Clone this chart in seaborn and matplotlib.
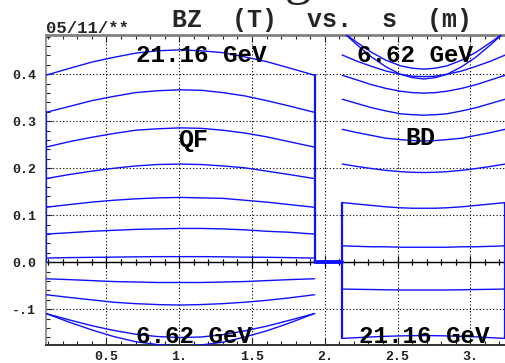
import matplotlib
matplotlib.use("Agg")
import matplotlib.pyplot as plt
import pandas as pd
import seaborn as sns
from matplotlib.ticker import MultipleLocator, FixedLocator, FixedFormatter

sns.set_theme(style="white")
plt.rcParams['font.family'] = ['Liberation Mono', 'DejaVu Sans Mono']
plt.rcParams['font.weight'] = 'bold'

# ---- field samples along s (m) ----
# quadrupole QF region
qf_s = [0.084, 0.25, 0.40, 0.55, 0.70, 0.85, 1.007, 1.15, 1.30, 1.45, 1.60, 1.75, 1.93]
qf_upper = [
    [0.398, 0.413, 0.426, 0.436, 0.445, 0.450, 0.452, 0.450, 0.446, 0.437, 0.427, 0.414, 0.398],
    [0.319, 0.332, 0.344, 0.353, 0.361, 0.365, 0.367, 0.366, 0.361, 0.354, 0.344, 0.333, 0.319],
    [0.245, 0.257, 0.266, 0.274, 0.281, 0.284, 0.286, 0.285, 0.281, 0.275, 0.267, 0.257, 0.245],
    [0.178, 0.187, 0.194, 0.200, 0.205, 0.208, 0.209, 0.208, 0.205, 0.201, 0.194, 0.187, 0.178],
    [0.117, 0.123, 0.128, 0.132, 0.135, 0.137, 0.138, 0.137, 0.136, 0.132, 0.128, 0.123, 0.117],
    [0.060, 0.063, 0.066, 0.068, 0.070, 0.071, 0.072, 0.072, 0.071, 0.069, 0.066, 0.064, 0.060],
    [0.009, 0.010, 0.0105, 0.011, 0.0116, 0.012, 0.012, 0.012, 0.0116, 0.011, 0.0106, 0.010, 0.009],
]
qf_lower = [
    [-0.035, -0.037, -0.039, -0.041, -0.042, -0.043, -0.043, -0.043, -0.042, -0.041, -0.039, -0.037, -0.035],
    [-0.069, -0.075, -0.080, -0.085, -0.088, -0.090, -0.091, -0.090, -0.088, -0.085, -0.081, -0.076, -0.069],
    [-0.109, -0.123, -0.135, -0.145, -0.153, -0.158, -0.160, -0.159, -0.154, -0.146, -0.136, -0.124, -0.109],
    [-0.109, -0.128, -0.144, -0.158, -0.169, -0.175, -0.178, -0.176, -0.170, -0.159, -0.146, -0.130, -0.109],
]

# defocusing BD region
bd_s = [2.12, 2.22, 2.32, 2.42, 2.52, 2.60, 2.68, 2.76, 2.84, 2.94, 3.04, 3.14, 3.24]
bd_upper = [
    [0.490, 0.468, 0.447, 0.430, 0.418, 0.413, 0.411, 0.413, 0.418, 0.430, 0.447, 0.468, 0.490],
    [0.491, 0.463, 0.437, 0.416, 0.400, 0.393, 0.390, 0.393, 0.400, 0.416, 0.437, 0.463, 0.491],
    [0.441, 0.428, 0.417, 0.407, 0.400, 0.396, 0.395, 0.396, 0.400, 0.407, 0.417, 0.428, 0.441],
    [0.398, 0.388, 0.378, 0.370, 0.364, 0.361, 0.360, 0.361, 0.364, 0.370, 0.378, 0.388, 0.398],
    [0.347, 0.338, 0.329, 0.322, 0.316, 0.314, 0.313, 0.314, 0.316, 0.322, 0.329, 0.338, 0.347],
    [0.283, 0.276, 0.270, 0.264, 0.261, 0.259, 0.258, 0.259, 0.261, 0.264, 0.270, 0.276, 0.283],
    [0.209, 0.204, 0.1995, 0.1956, 0.1928, 0.1915, 0.191, 0.1915, 0.1928, 0.1956, 0.1995, 0.204, 0.209],
]
bd_box = [
    [0.127, 0.124, 0.121, 0.118, 0.116, 0.115, 0.115, 0.115, 0.116, 0.118, 0.121, 0.124, 0.127],
    [0.035, 0.034, 0.033, 0.033, 0.032, 0.032, 0.032, 0.032, 0.032, 0.033, 0.033, 0.034, 0.035],
    [-0.057, -0.0575, -0.058, -0.0585, -0.059, -0.059, -0.059, -0.059, -0.059, -0.0585, -0.058, -0.0575, -0.057],
    [-0.162, -0.1604, -0.1588, -0.1575, -0.1566, -0.1562, -0.156, -0.1562, -0.1566, -0.1575, -0.1588, -0.1604, -0.162],
]

x_ticks = [0.5, 1.0, 1.5, 2.0, 2.5, 3.0]
x_labels = ["0.5", "1.", "1.5", "2.", "2.5", "3."]
y_ticks = [-0.1, 0.0, 0.1, 0.2, 0.3, 0.4]
y_labels = ["-.1", "0.0", "0.1", "0.2", "0.3", "0.4"]

BLUE = "#1010ff"


def traces(s, groups, prefix):
    rows = []
    for i, vals in enumerate(groups):
        for sv, bz in zip(s, vals):
            rows.append({"s": sv, "bz": bz, "trace": f"{prefix}{i}"})
    return rows


rows = []
rows += traces(qf_s, qf_upper, "qfu")
rows += traces(qf_s, qf_lower, "qfl")
rows += traces(bd_s, bd_upper, "bdu")
rows += traces(bd_s, bd_box, "bdb")
curves = pd.DataFrame(rows)

# connecting edges of the traces
edges = pd.DataFrame(
    traces([qf_s[0]] * 2, [[0.0, qf_upper[1][0]]], "e_qfl")
    + traces([qf_s[-1]] * 2, [[0.0, qf_upper[0][-1]]], "e_qfr")
    + traces([bd_s[0]] * 2, [[bd_box[0][0], bd_box[-1][0]]], "e_bdl")
    + traces([bd_s[-1]] * 2, [[bd_box[0][-1], bd_box[-1][-1]]], "e_bdr")
)
gap = pd.DataFrame(traces([qf_s[-1], bd_s[0]], [[0.0, 0.0]], "gap"))

fig = plt.figure(figsize=(5.06, 3.63), dpi=100)
ax = fig.add_axes([45.7 / 506, 1 - 345 / 363, (506 - 45.7) / 506, (345 - 35) / 363])

sns.lineplot(data=curves, x="s", y="bz", units="trace", estimator=None, sort=False,
             color=BLUE, lw=1.0, legend=False, ax=ax, zorder=3)
sns.lineplot(data=edges, x="s", y="bz", units="trace", estimator=None, sort=False,
             color=BLUE, lw=1.6, legend=False, ax=ax, zorder=3)
sns.lineplot(data=gap, x="s", y="bz", units="trace", estimator=None, sort=False,
             color=BLUE, lw=2.8, legend=False, ax=ax, zorder=3)

ax.set_xlim(0.0825, 3.245)
ax.set_ylim(-0.176, 0.4836)
ax.set_xlabel("")
ax.set_ylabel("")

ax.xaxis.set_major_locator(FixedLocator(x_ticks))
ax.xaxis.set_major_formatter(FixedFormatter(x_labels))
ax.xaxis.set_minor_locator(MultipleLocator(0.1))
ax.yaxis.set_major_locator(FixedLocator(y_ticks))
ax.yaxis.set_major_formatter(FixedFormatter(y_labels))
ax.yaxis.set_minor_locator(MultipleLocator(0.02))

ax.tick_params(axis="x", which="both", direction="in", top=True, bottom=True,
               colors="#222222", labelsize=9.5, pad=4)
ax.tick_params(axis="x", which="major", length=5, width=0.8)
ax.tick_params(axis="x", which="minor", length=3, width=0.8)
ax.tick_params(axis="y", which="both", direction="in", left=True, right=False,
               colors="#222222", labelsize=9.5, pad=7)
ax.tick_params(axis="y", which="major", length=4, width=0.8)
ax.tick_params(axis="y", which="minor", length=3, width=0.8)
for lab in ax.get_xticklabels() + ax.get_yticklabels():
    lab.set_fontweight("bold")

ax.grid(True, which="major", color="black", linestyle=(0, (1, 2)), lw=0.8)

ax.spines["top"].set_color("#808080")
ax.spines["top"].set_linewidth(2.0)
ax.spines["left"].set_color("#808080")
ax.spines["left"].set_linewidth(1.2)
ax.spines["bottom"].set_color("#333333")
ax.spines["bottom"].set_linewidth(1.4)
ax.spines["right"].set_visible(False)

# zero line with its own tick marks
ylo, yhi = ax.get_ylim()
zero_axis = ax.secondary_xaxis((0 - ylo) / (yhi - ylo))
zero_axis.xaxis.set_major_locator(FixedLocator(x_ticks))
zero_axis.xaxis.set_minor_locator(MultipleLocator(0.1))
zero_axis.tick_params(axis="x", which="both", direction="inout", top=True, bottom=True,
                      labeltop=False, labelbottom=False, colors="black", width=0.8)
zero_axis.tick_params(axis="x", which="major", length=8)
zero_axis.tick_params(axis="x", which="minor", length=5)
for sp in zero_axis.spines.values():
    sp.set_color("black")
    sp.set_linewidth(1.0)

txt = dict(fontweight="bold", color="black", ha="center", va="baseline", zorder=5)
ax.text(1.150, 0.427, "21.16 GeV", fontsize=17.5, **txt)
ax.text(2.622, 0.427, "6.62 GeV", fontsize=17.5, **txt)
ax.text(1.096, 0.245, "QF", fontsize=18, **txt)
ax.text(2.656, 0.250, "BD", fontsize=18, **txt)
ax.text(1.103, -0.172, "6.62 GeV", fontsize=17.5, **txt)
ax.text(2.682, -0.172, "21.16 GeV", fontsize=17.5, **txt)

fig.text(322 / 506, 1 - 26.7 / 363, "BZ  (T)  vs.  s  (m)", fontsize=18,
         fontweight="bold", ha="center", va="baseline")
fig.text(45.7 / 506, 1 - 33.3 / 363, "05/11/**", fontsize=12.5,
         fontweight="bold", ha="left", va="baseline")
# lower tail of the large heading that sits above the frame
fig.text(297.5 / 506, 1 + 6 / 363, "g", fontsize=38, family="Liberation Serif",
         fontweight="normal", ha="center", va="baseline")

fig.savefig("out.png", dpi=100)
